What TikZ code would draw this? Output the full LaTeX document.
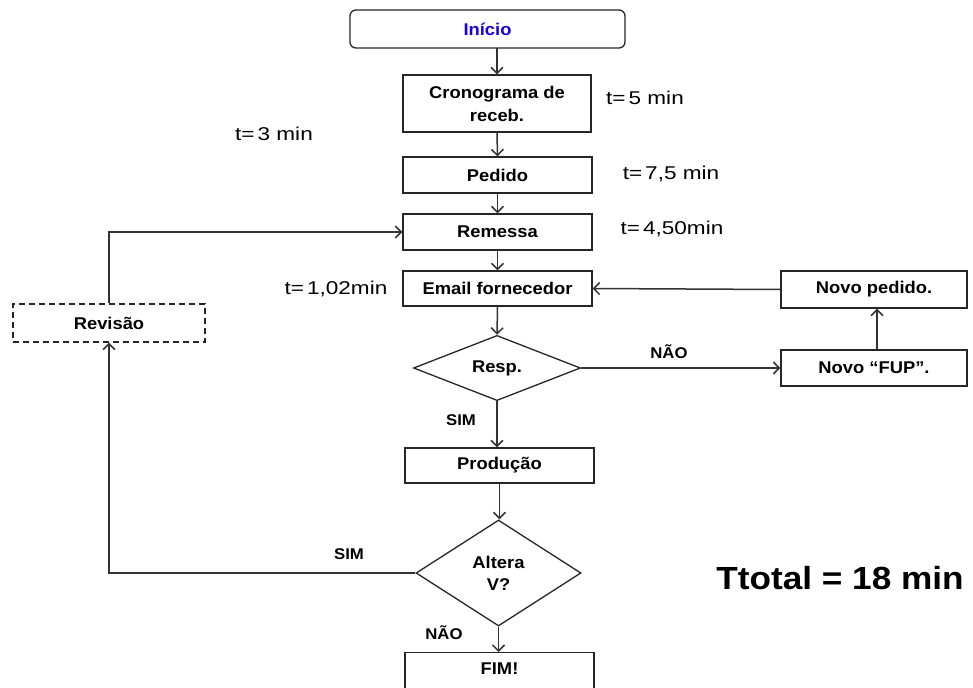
\documentclass[tikz,border=0pt]{standalone}
\usepackage{fontspec}
\setmainfont{Liberation Sans}
\newfontfamily\boxfont[FakeStretch=1.08]{Liberation Sans}
\newfontfamily\timefont[FakeStretch=1.22]{Liberation Sans}
\newfontfamily\totalfont[FakeStretch=1.1]{Liberation Sans}
\usetikzlibrary{arrows.meta,shapes.geometric}
\begin{document}
\begin{tikzpicture}[x=1pt,y=-1pt,
  box/.style={draw=black!85, line width=1.3pt, minimum width=189pt, inner sep=0pt, align=center,
    font=\boxfont\fontsize{17}{23}\selectfont\bfseries, text=black},
  dec/.style={diamond, draw=black!85, line width=1.3pt, inner sep=0pt, align=center,
    font=\boxfont\fontsize{17}{22}\selectfont\bfseries, text=black},
  flow/.style={-{Straight Barb[length=6pt,width=12pt]}, draw=black!80, line width=1.5pt},
  tlabel/.style={font=\timefont\fontsize{18.5}{20}\selectfont, text=black},
  blabel/.style={font=\boxfont\fontsize{15.5}{17}\selectfont\bfseries, text=black}
]
\useasboundingbox (0,0) rectangle (973,687);
\begin{scope}
\clip (0,0) rectangle (973,687);

% process boxes
\node[box, rounded corners=6pt, minimum width=275pt, minimum height=38pt, text=blue!80!violet] (inicio) at (487.5,29) {Início};
\node[box, minimum width=188pt, minimum height=57pt] (crono) at (497,103.5) {Cronograma de\\receb.};
\node[box, minimum height=36pt] (pedido) at (497.5,175) {Pedido};
\node[box, minimum height=36pt] (remessa) at (497.5,232) {Remessa};
\node[box, minimum height=35pt] (email) at (497.5,288.5) {Email fornecedor};
\node[dec, minimum width=167pt, minimum height=64pt] (resp) at (497,368) {Resp.};
\node[box, minimum height=35pt] (prod) at (499.5,465.5) {Produção};
\node[dec, minimum width=165pt, minimum height=106pt] (altera) at (498.5,573) {Altera\\V?};
\node[box, minimum height=60pt, anchor=north] (fim) at (499.5,652) {};
\node[font=\boxfont\fontsize{17}{20}\selectfont\bfseries] (fimtxt) at (499.5,669) {FIM!};
\node[box, dash pattern=on 6pt off 4pt, minimum width=192pt, minimum height=38pt] (revisao) at (109,323) {Revisão};
\node[box, minimum width=186pt, minimum height=37pt] (novoped) at (874,289.5) {Novo pedido.};
\node[box, minimum width=186pt, minimum height=36pt] (fup) at (874,368) {Novo “FUP”.};

% main flow
\coordinate (iniout) at (497,48);
\draw[flow] (iniout) -- (crono.north);
\draw[flow] (crono.south) -- (pedido.north);
\draw[flow] (pedido.south) -- (remessa.north);
\draw[flow] (remessa.south) -- (email.north);
\draw[flow] (email.south) -- (resp.north);
\draw[flow] (resp.south) -- (resp.south |- prod.north);
\draw[flow] (prod.south) -- (prod.south |- altera.north);
\draw[flow] (altera.south) -- (altera.south |- fim.north);

% negative answer loop
\coordinate (fupup) at (877,368);
\draw[flow] (resp.east) -- (fup.west);
\draw[flow] (fupup |- fup.north) -- (fupup |- novoped.south);
\draw[flow] (novoped.west) -- (email.east);

% change loop
\draw[flow] (altera.west) -- (altera.west -| revisao.south) -- (revisao.south);
\draw[flow] (revisao.north) -- (revisao.north |- remessa.west) -- (remessa.west);

% branch labels
\node[blabel] (nao1) at (669,352) {NÃO};
\node[blabel] (sim1) at (461,420) {SIM};
\node[blabel] (sim2) at (349,554) {SIM};
\node[blabel] (nao2) at (444,633) {NÃO};

% time labels
\node[tlabel] (t1) at (645,98) {t=\hspace{3pt}5 min};
\node[tlabel] (t2) at (274,134) {t=\hspace{3pt}3 min};
\node[tlabel] (t3) at (671,174) {t=\hspace{3pt}7,5 min};
\node[tlabel] (t4) at (672,229) {t=\hspace{3pt}4,50min};
\node[tlabel] (t5) at (336,289) {t=\hspace{3pt}1,02min};
\node[font=\totalfont\fontsize{32}{34}\selectfont\bfseries, text=black] (total) at (840,578) {Ttotal = 18 min};
\end{scope}
\end{tikzpicture}
\end{document}
